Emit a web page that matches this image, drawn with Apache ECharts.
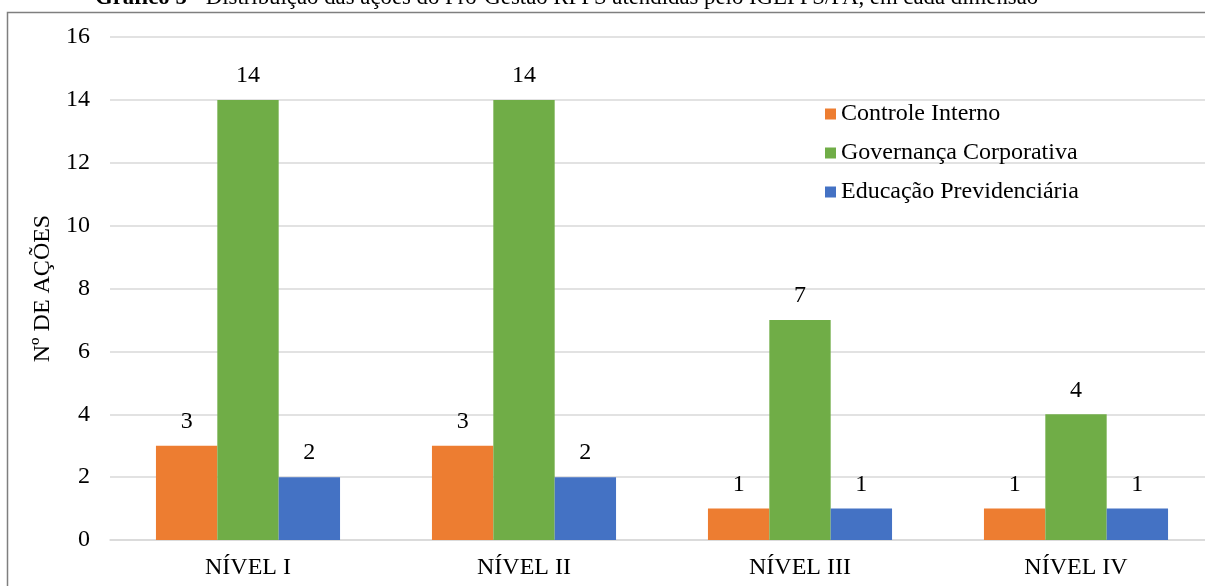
<!DOCTYPE html>
<html>
<head>
<meta charset="utf-8">
<script src="https://cdn.jsdelivr.net/npm/echarts@6/dist/echarts.min.js"></script>
<style>
  html, body { margin: 0; padding: 0; background: #ffffff; }
  #chart { width: 1205px; height: 586px; }
</style>
</head>
<body>
<div id="chart"></div>
<script>
// Action counts per Pró-Gestão level, split by dimension
const levels = ['NÍVEL I', 'NÍVEL II', 'NÍVEL III', 'NÍVEL IV'];
const controleInterno = [3, 3, 1, 1];
const governancaCorporativa = [14, 14, 7, 4];
const educacaoPrevidenciaria = [2, 2, 1, 1];
const yTicks = { min: 0, max: 16, interval: 2 };

const serif = '"Liberation Serif", "Times New Roman", serif';
const textColor = '#000000';

const chart = echarts.init(document.getElementById('chart'), null, { renderer: 'canvas' });

function barSeries(name, data, color) {
  return {
    name: name,
    type: 'bar',
    data: data,
    barGap: '0%',
    barCategoryGap: '33.3%',
    itemStyle: { color: color },
    label: {
      show: true,
      position: 'top',
      distance: 12,
      fontFamily: serif,
      fontSize: 24,
      color: textColor
    }
  };
}

chart.setOption({
  backgroundColor: '#ffffff',
  animation: false,
  title: {
    text: '{b|Gráfico 5 -} Distribuição das ações do Pró-Gestão RPPS atendidas pelo IGEPPS/PA, em cada dimensão',
    left: 95,
    top: -13,
    padding: 0,
    textStyle: {
      fontFamily: serif,
      fontSize: 22.8,
      fontWeight: 'normal',
      color: textColor,
      lineHeight: 23,
      rich: {
        b: { fontFamily: serif, fontSize: 22.8, fontWeight: 'bold', color: textColor, lineHeight: 23 }
      }
    }
  },
  graphic: [{
    type: 'rect',
    silent: true,
    shape: { x: 7.5, y: 12.5, width: 1220, height: 600 },
    style: { fill: 'none', stroke: '#7f7f7f', lineWidth: 1.5 },
    z: 100
  }],
  legend: {
    orient: 'vertical',
    left: 825,
    top: 102,
    padding: 0,
    itemWidth: 11,
    itemHeight: 11,
    itemGap: 15,
    icon: 'rect',
    textStyle: { fontFamily: serif, fontSize: 24, color: textColor, lineHeight: 24 },
    data: ['Controle Interno', 'Governança Corporativa', 'Educação Previdenciária']
  },
  // The plot area runs past the right edge of the frame
  grid: { left: 110, width: 1104, top: 37, bottom: 46, containLabel: false, outerBoundsMode: 'none' },
  xAxis: {
    type: 'category',
    data: levels,
    axisLine: { show: true, lineStyle: { color: '#d9d9d9', width: 1.5 } },
    axisTick: { show: false },
    axisLabel: { margin: 16, fontFamily: serif, fontSize: 24, color: textColor, lineHeight: 24 }
  },
  yAxis: {
    type: 'value',
    min: yTicks.min,
    max: yTicks.max,
    interval: yTicks.interval,
    name: 'Nº DE AÇÕES',
    nameLocation: 'middle',
    nameGap: 50,
    nameTextStyle: { fontFamily: serif, fontSize: 24, color: textColor },
    axisLine: { show: false },
    axisTick: { show: false },
    splitLine: { lineStyle: { color: '#d9d9d9', width: 1.5 } },
    axisLabel: { margin: 20, fontFamily: serif, fontSize: 24, color: textColor }
  },
  series: [
    barSeries('Controle Interno', controleInterno, '#ED7D31'),
    barSeries('Governança Corporativa', governancaCorporativa, '#70AD47'),
    barSeries('Educação Previdenciária', educacaoPrevidenciaria, '#4472C4')
  ]
});
</script>
</body>
</html>
